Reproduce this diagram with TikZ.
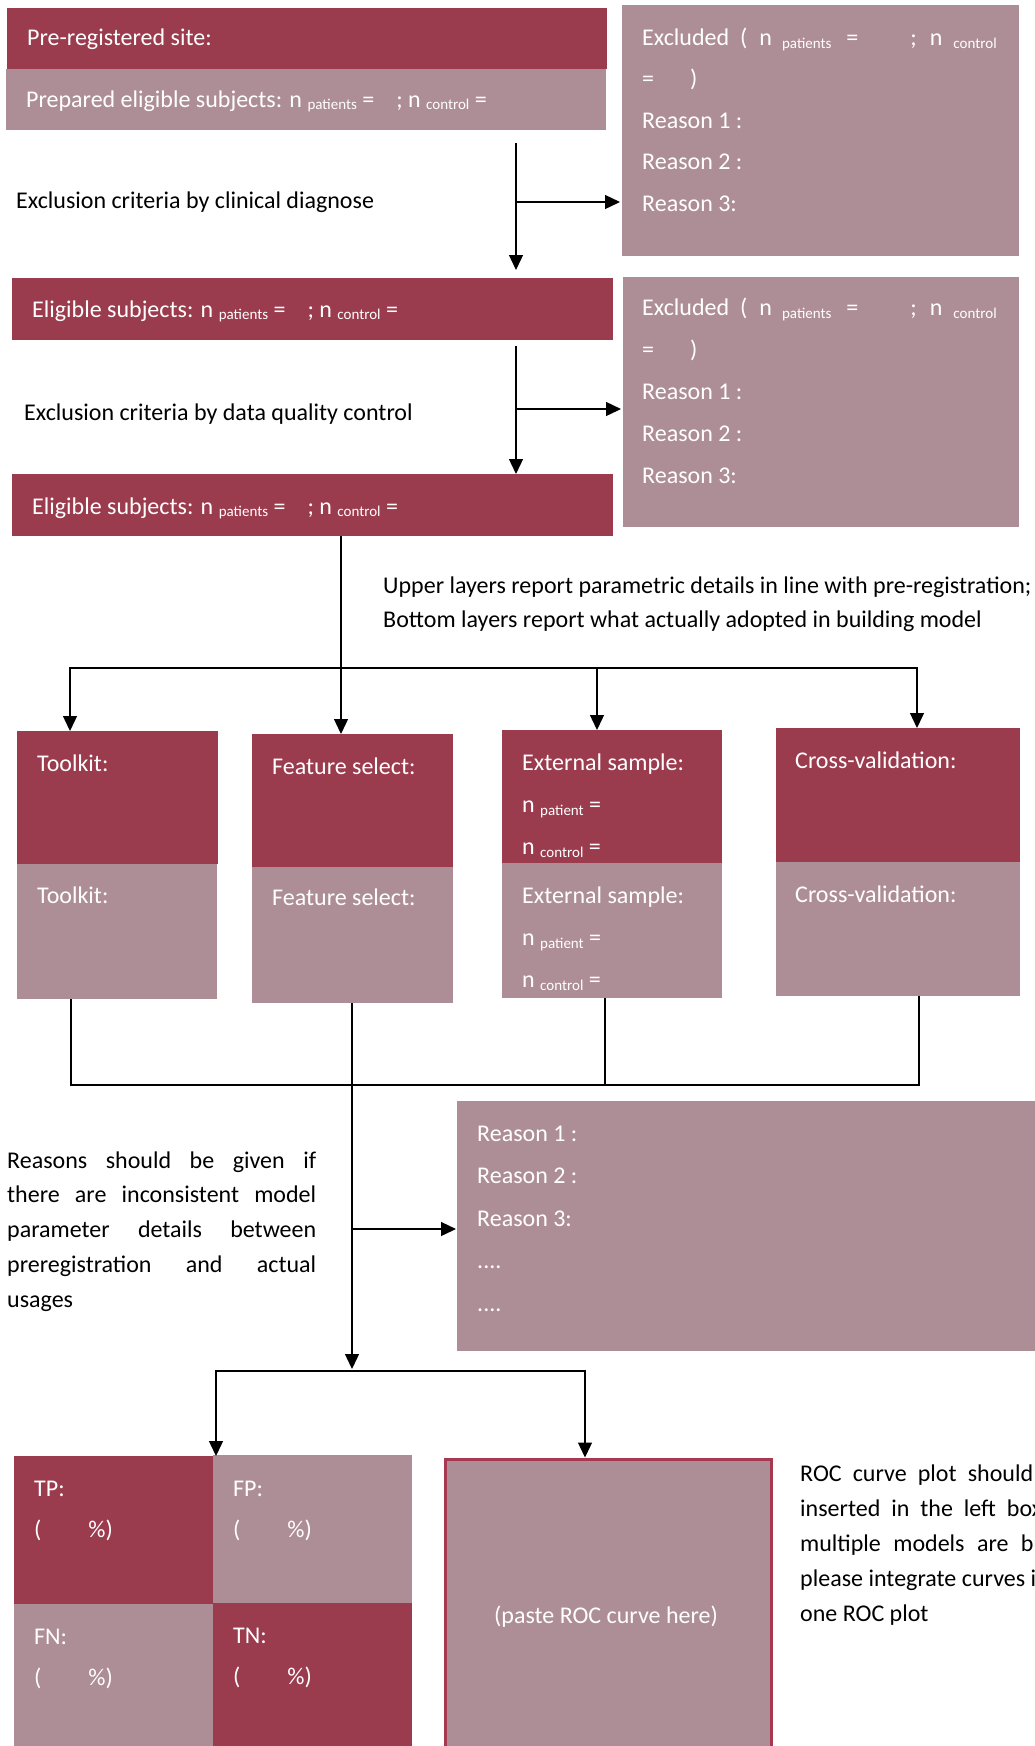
\documentclass[tikz,border=0pt]{standalone}
\usepackage{fontspec}
\setmainfont{Carlito}
\usetikzlibrary{arrows.meta,positioning}
\definecolor{wine}{RGB}{155,59,78}
\definecolor{mauve}{RGB}{174,142,150}
\definecolor{winerim}{RGB}{166,57,80}
\newcommand{\nsub}[1]{\raisebox{-0.25ex}{\fontsize{15}{15}\selectfont #1}}
\newcommand{\lift}{\rule{0pt}{18pt}}
\begin{document}
\begin{tikzpicture}[x=1pt,y=-1pt,
  txt/.style={inner sep=0pt,anchor=base west,font=\fontsize{24}{29}\selectfont},
  wtxt/.style={txt,text=white},
  lines/.style={inner sep=0pt,anchor=north west,align=left,text=white,font=\fontsize{24}{#1}\selectfont},
  darkbox/.style={fill=wine,inner sep=0pt,anchor=north west},
  lightbox/.style={fill=mauve,inner sep=0pt,anchor=north west},
  flow/.style={line width=1.3pt,-{Triangle[length=15pt,width=14pt]}},
  link/.style={line width=1.3pt},
  bar/.style={line width=2pt,line cap=rect}]
\useasboundingbox (0,0) rectangle (1035,1746);
% screening
\node[darkbox,minimum width=600pt,minimum height=61pt] (site) at (7,8) {};
\node[lightbox,minimum width=600pt,minimum height=61pt] (prep) at (6,69) {};
\node[wtxt] (sitetxt) at (27,45) {Pre-registered site:};
\node[wtxt] (preptxt) at (26,107) {Prepared eligible subjects: n \nsub{patients} =\hspace{22pt}; n \nsub{control} =};
\node[lightbox,minimum width=397pt,minimum height=251pt] (excl1) at (622,5) {};
\node[lines=41.5pt] (excl1txt) at (642,27) {\lift Excluded\hspace{11pt}(\hspace{12pt}n\hspace{10pt}\nsub{patients}\hspace{15pt}=\hspace{52pt};\hspace{13pt}n\hspace{11pt}\nsub{control}\\
  =\hspace{36pt})\\ Reason 1 :\\ Reason 2 :\\ Reason 3:};
\node[txt] (crit1) at (16,208) {Exclusion criteria by clinical diagnose};
\node[darkbox,minimum width=601pt,minimum height=62pt] (elig1) at (12,278) {};
\node[wtxt] (elig1txt) at (32,317) {Eligible subjects: n \nsub{patients} =\hspace{22pt}; n \nsub{control} =};
\node[lightbox,minimum width=396pt,minimum height=250pt] (excl2) at (623,277) {};
\node[lines=42pt] (excl2txt) at (642,297) {\lift Excluded\hspace{11pt}(\hspace{12pt}n\hspace{10pt}\nsub{patients}\hspace{15pt}=\hspace{52pt};\hspace{13pt}n\hspace{11pt}\nsub{control}\\
  =\hspace{36pt})\\ Reason 1 :\\ Reason 2 :\\ Reason 3:};
\node[txt] (crit2) at (24,420) {Exclusion criteria by data quality control};
\node[darkbox,minimum width=601pt,minimum height=62pt] (elig2) at (12,474) {};
\node[wtxt] (elig2txt) at (32,514) {Eligible subjects: n \nsub{patients} =\hspace{22pt}; n \nsub{control} =};
\node[lines=34pt,text=black] (layers) at (383,575) {\lift Upper layers report parametric details in line with pre-registration;\\
  Bottom layers report what actually adopted in building model};
% model parameters
\node[darkbox,minimum width=201pt,minimum height=133pt] (toolup) at (17,731) {};
\node[lightbox,minimum width=200pt,minimum height=135pt] (toollow) at (17,864) {};
\node[darkbox,minimum width=201pt,minimum height=133pt] (featup) at (252,734) {};
\node[lightbox,minimum width=201pt,minimum height=136pt] (featlow) at (252,867) {};
\node[darkbox,minimum width=220pt,minimum height=133pt] (extup) at (502,730) {};
\node[lightbox,minimum width=220pt,minimum height=135pt] (extlow) at (502,863) {};
\node[darkbox,minimum width=244pt,minimum height=134pt] (cvup) at (776,728) {};
\node[lightbox,minimum width=244pt,minimum height=134pt] (cvlow) at (776,862) {};
\node[wtxt] (tooluptxt) at (37,771) {Toolkit:};
\node[wtxt] (toollowtxt) at (37,903) {Toolkit:};
\node[wtxt] (featuptxt) at (272,774) {Feature select:};
\node[wtxt] (featlowtxt) at (272,905) {Feature select:};
\node[lines=42pt] (extuptxt) at (522,752) {\lift External sample:\\ n \nsub{patient} =\\ n \nsub{control} =};
\node[lines=42pt] (extlowtxt) at (522,885) {\lift External sample:\\ n \nsub{patient} =\\ n \nsub{control} =};
\node[wtxt] (cvuptxt) at (795,768) {Cross-validation:};
\node[wtxt] (cvlowtxt) at (795,902) {Cross-validation:};
% inconsistencies
\node[lightbox,minimum width=590pt,minimum height=250pt] (reasons) at (457,1101) {};
\node[lines=42.5pt] (reasonstxt) at (477,1123) {\lift Reason 1 :\\ Reason 2 :\\ Reason 3:\\ ....\\ ....};
\node[lines=34.7pt,text=black] (why) at (7,1150) {\lift\makebox[309pt][s]{Reasons should be given if}\\
  \makebox[309pt][s]{there are inconsistent model}\\ \makebox[309pt][s]{parameter details between}\\
  \makebox[309pt][s]{preregistration and actual}\\ usages};
% performance
\node[darkbox,minimum width=199pt,minimum height=148pt] (tp) at (14,1456) {};
\node[lightbox,minimum width=199pt,minimum height=148pt] (fp) at (213,1455) {};
\node[lightbox,minimum width=199pt,minimum height=150pt] (fn) at (14,1604) {};
\node[darkbox,minimum width=199pt,minimum height=150pt] (tn) at (213,1603) {};
\node[lines=41pt] (tptxt) at (34,1478) {\lift TP:\\ (\hspace{47pt}\%)};
\node[lines=41pt] (fptxt) at (233,1478) {\lift FP:\\ (\hspace{47pt}\%)};
\node[lines=41pt] (fntxt) at (34,1626) {\lift FN:\\ (\hspace{47pt}\%)};
\node[lines=41pt] (tntxt) at (233,1625) {\lift TN:\\ (\hspace{47pt}\%)};
\node[lightbox,draw=winerim,line width=3pt,minimum width=326pt,minimum height=300pt] (roc) at (443.5,1457.5) {};
\node[wtxt,anchor=base] (paste) at (606,1623) {(paste ROC curve here)};
\node[lines=35pt,text=black] (rocnote) at (800,1463) {\lift\makebox[233pt][s]{ROC curve plot should}\\
  \makebox[242pt][s]{inserted in the left box}\\ \makebox[246pt][s]{multiple models are bu}\\
  \makebox[236pt][s]{please integrate curves i}\\ one ROC plot};
% connectors
\coordinate (s1) at (516,143);
\coordinate (j1) at (516,202);
\draw[flow,shorten >=8pt] (s1) -- (s1 |- elig1.north);
\draw[flow,shorten >=2pt] (j1) -- (j1 -| excl1.west);
\coordinate (s2) at (516,346);
\coordinate (j2) at (516,409);
\draw[flow] (s2) -- (s2 |- elig2.north);
\draw[flow,shorten >=2pt] (j2) -- (j2 -| excl2.west);
\coordinate (t1) at (70,668);
\coordinate (t2) at (341,668);
\coordinate (t3) at (597,668);
\coordinate (t4) at (917,668);
\draw[link] (t2 |- elig2.south) -- (t2);
\draw[bar] (t1) -- (t4);
\draw[flow] (t1) -- (t1 |- toolup.north);
\draw[flow] (t2) -- (t2 |- featup.north);
\draw[flow] (t3) -- (t3 |- extup.north);
\draw[flow] (t4) -- (t4 |- cvup.north);
\coordinate (g1) at (71,1085);
\coordinate (g3) at (605,1085);
\coordinate (g4) at (919,1085);
\draw[link] (g1 |- toollow.south) -- (g1);
\draw[link] (g3 |- extlow.south) -- (g3);
\draw[link] (g4 |- cvlow.south) -- (g4);
\draw[bar] (g1) -- (g4);
\coordinate (k1) at (352,1229);
\coordinate (k2) at (352,1369);
\draw[flow] (k1 |- featlow.south) -- (k2);
\draw[flow,shorten >=1pt] (k1) -- (k1 -| reasons.west);
\coordinate (m1) at (216,1371);
\coordinate (m2) at (585,1371);
\draw[bar] (m1) -- (m2);
\draw[flow] (m1) -- (m1 |- tp.north);
\draw[flow] (m2) -- (m2 |- roc.north);
\end{tikzpicture}
\end{document}
